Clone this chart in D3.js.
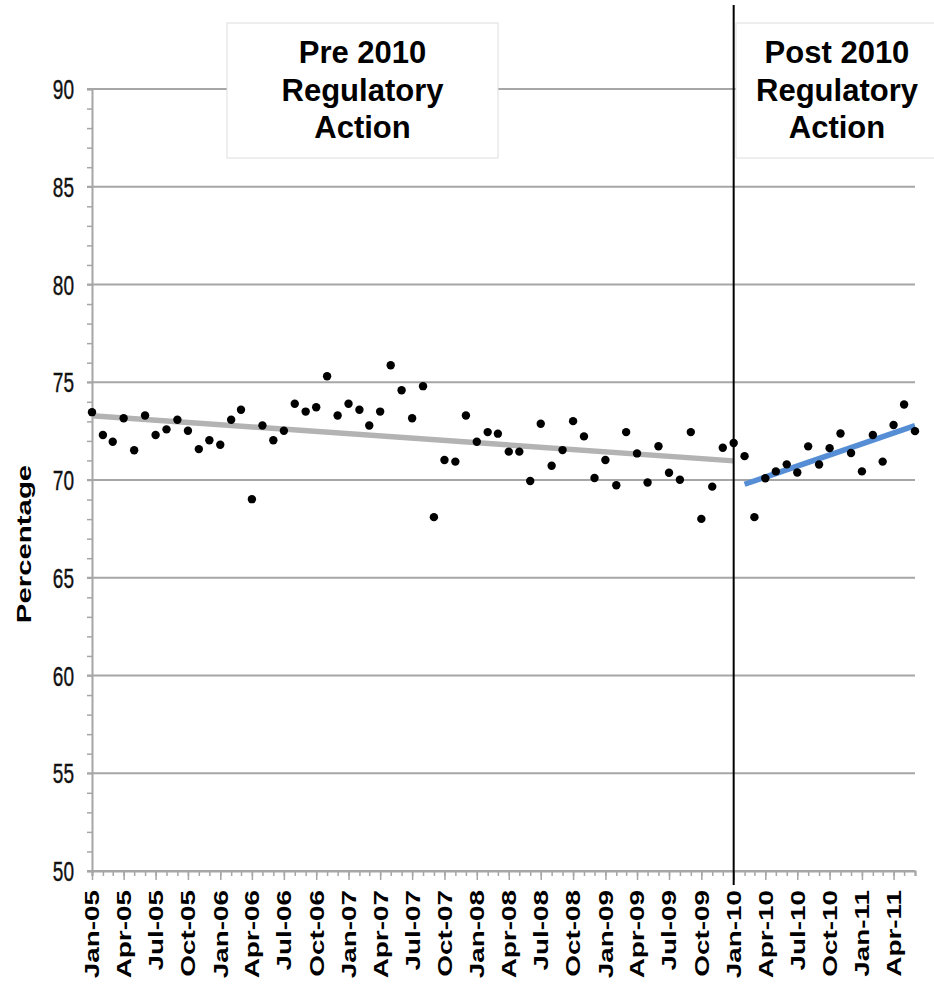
<!DOCTYPE html>
<html>
<head>
<meta charset="utf-8">
<script src="https://cdn.jsdelivr.net/npm/d3@7"></script>
<style>
  body { margin: 0; background: #fff; }
  svg { display: block; font-family: "Liberation Sans", Arial, sans-serif; }
</style>
</head>
<body>
<div id="chart"></div>
<script>
// monthly percentage, Jan-05 .. Jun-11
var values = [
  73.47, 72.30, 71.96, 73.16, 71.52, 73.30, 72.30, 72.59, 73.08, 72.52, 71.58, 72.03,
  71.80, 73.08, 73.59, 69.02, 72.79, 72.03, 72.52, 73.90, 73.50, 73.72, 75.31, 73.30,
  73.90, 73.59, 72.79, 73.50, 75.87, 74.59, 73.16, 74.80, 68.10, 71.02, 70.94, 73.30,
  71.96, 72.45, 72.37, 71.45, 71.45, 69.95, 72.88, 70.73, 71.53, 73.01, 72.23, 70.10,
  71.02, 69.73, 72.45, 71.36, 69.87, 71.73, 70.37, 70.01, 72.45, 68.01, 69.66, 71.65,
  71.89, 71.22, 68.10, 70.09, 70.44, 70.80, 70.38, 71.72, 70.79, 71.63, 72.38, 71.38,
  70.44, 72.30, 70.94, 72.81, 73.86, 72.50
];
var startMonth = new Date(2005, 0, 1);
var endMonth = new Date(2011, 5, 1);
var breakMonth = new Date(2010, 0, 1);
var yTicks = [50, 55, 60, 65, 70, 75, 80, 85, 90];
var boxLabels = [
  { lines: ["Pre 2010", "Regulatory", "Action"] },
  { lines: ["Post 2010", "Regulatory", "Action"] }
];

var months = d3.timeMonth.range(startMonth, d3.timeMonth.offset(endMonth, 1));
var data = months.map((m, i) => ({ date: m, value: values[i] }));

var svg = d3.select("#chart")
  .append("svg")
  .attr("width", 934)
  .attr("height", 984);

var x = d3.scaleTime()
  .domain([startMonth, endMonth])
  .range([92, 915]);

var y = d3.scaleLinear()
  .domain([50, 90])
  .range([871, 89]);

// gridlines
svg.selectAll(".grid")
  .data(yTicks)
  .enter()
  .append("line")
  .attr("class", "grid")
  .attr("x1", 87)
  .attr("x2", 915)
  .attr("y1", d => y(d))
  .attr("y2", d => y(d))
  .attr("stroke", "#a6a6a6")
  .attr("stroke-width", 2);

// y axis with minor ticks
var yAxis = svg.append("g")
  .attr("transform", "translate(92,0)")
  .call(d3.axisLeft(y).tickValues(d3.range(50, 91, 1)).tickSize(5).tickFormat(""));
yAxis.selectAll("line").attr("stroke", "#a6a6a6").attr("stroke-width", 1.5);
yAxis.select(".domain").attr("stroke", "#a6a6a6").attr("stroke-width", 2);

svg.selectAll(".ylab")
  .data(yTicks)
  .enter()
  .append("text")
  .attr("class", "ylab")
  .attr("transform", d => "translate(74," + y(d) + ") scale(0.68,1)")
  .attr("dy", "0.36em")
  .style("text-anchor", "end")
  .style("font-size", "28px")
  .attr("fill", "#111")
  .attr("stroke", "#111")
  .attr("stroke-width", 0.4)
  .text(d => d);

// x axis: monthly minor ticks, quarterly major ticks
var xMinor = svg.append("g")
  .attr("transform", "translate(0,871)")
  .call(d3.axisBottom(x).ticks(d3.timeMonth.every(1)).tickSize(5).tickFormat(""));
xMinor.selectAll("line").attr("stroke", "#a6a6a6").attr("stroke-width", 1.5);
xMinor.select(".domain").attr("stroke", "#a6a6a6").attr("stroke-width", 2);

var xMajor = svg.append("g")
  .attr("transform", "translate(0,871)")
  .call(d3.axisBottom(x).ticks(d3.timeMonth.every(3)).tickSize(9).tickFormat(""));
xMajor.selectAll("line").attr("stroke", "#a6a6a6").attr("stroke-width", 1.5);
xMajor.select(".domain").remove();

var fmt = d3.timeFormat("%b-%y");
svg.selectAll(".xlab")
  .data(x.ticks(d3.timeMonth.every(3)))
  .enter()
  .append("text")
  .attr("class", "xlab")
  .attr("transform", d => "translate(" + x(d) + ",890) rotate(-90) scale(1.36,1)")
  .attr("dy", "0.36em")
  .style("text-anchor", "end")
  .style("font-size", "20.5px")
  .style("font-weight", "bold")
  .attr("fill", "#000")
  .text(d => fmt(d));

svg.append("text")
  .attr("transform", "translate(23,544) rotate(-90) scale(1.4,1)")
  .attr("dy", "0.36em")
  .style("text-anchor", "middle")
  .style("font-size", "21px")
  .style("font-weight", "bold")
  .text("Percentage");

// linear trends (least squares)
function trend(pts) {
  var n = pts.length;
  var mx = d3.mean(pts, (d, i) => i), my = d3.mean(pts, d => d.value);
  var sxy = d3.sum(pts, (d, i) => (i - mx) * (d.value - my));
  var sxx = d3.sum(pts, (d, i) => (i - mx) * (i - mx));
  var b = sxy / sxx, a = my - b * mx;
  return [{ date: pts[0].date, value: a }, { date: pts[n - 1].date, value: a + b * (n - 1) }];
}
var pre = data.filter(d => d.date <= breakMonth);
var post = data.filter(d => d.date > breakMonth);

var line = d3.line().x(d => x(d.date)).y(d => y(d.value));

svg.append("path")
  .datum(trend(pre))
  .attr("d", line)
  .attr("fill", "none")
  .attr("stroke", "#b3b3b3")
  .attr("stroke-width", 5.5);

svg.append("path")
  .datum(trend(post))
  .attr("d", line)
  .attr("fill", "none")
  .attr("stroke", "#558ed5")
  .attr("stroke-width", 5.5);

// points
svg.selectAll(".dot")
  .data(data)
  .enter()
  .append("circle")
  .attr("class", "dot")
  .attr("cx", d => x(d.date))
  .attr("cy", d => y(d.value))
  .attr("r", 4.2)
  .attr("fill", "#000");

// divider at Jan-10
svg.append("line")
  .attr("x1", x(breakMonth))
  .attr("x2", x(breakMonth))
  .attr("y1", 5)
  .attr("y2", 885)
  .attr("stroke", "#000")
  .attr("stroke-width", 2);

// label boxes
var boxes = svg.selectAll(".box")
  .data(boxLabels)
  .enter()
  .append("g")
  .attr("class", "box")
  .attr("transform", (d, i) => i === 0 ? "translate(227,23)" : "translate(736,23)");

boxes.append("rect")
  .attr("width", (d, i) => i === 0 ? 271 : 202)
  .attr("height", 135)
  .attr("fill", "#fff")
  .attr("stroke", "#dedede")
  .attr("stroke-width", 1);

boxes.each(function(d, i) {
  var w = i === 0 ? 271 : 202;
  d3.select(this).selectAll("text")
    .data(d.lines)
    .enter()
    .append("text")
    .attr("x", w / 2)
    .attr("y", (t, j) => 40 + j * 37.5)
    .style("text-anchor", "middle")
    .style("font-size", "31px")
    .style("font-weight", "bold")
    .attr("fill", "#000")
    .text(t => t);
});
</script>
</body>
</html>
